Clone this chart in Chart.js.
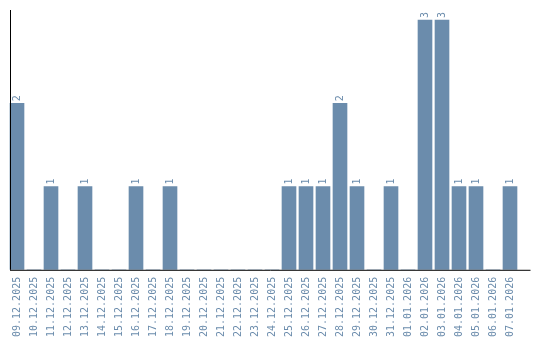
<!DOCTYPE html>
<html>
<head>
<meta charset="utf-8">
<script src="https://cdn.jsdelivr.net/npm/chart.js@4"></script>
<style>
  html, body { margin: 0; padding: 0; background: #fff; }
  #wrap { width: 540px; height: 340px; }
</style>
</head>
<body>
<div id="wrap"><canvas id="chart" width="540" height="340"></canvas></div>
<script>
// Fechas (eje X) y cantidades por día
const fechas = [
  '09.12.2025', '10.12.2025', '11.12.2025', '12.12.2025', '13.12.2025',
  '14.12.2025', '15.12.2025', '16.12.2025', '17.12.2025', '18.12.2025',
  '19.12.2025', '20.12.2025', '21.12.2025', '22.12.2025', '23.12.2025',
  '24.12.2025', '25.12.2025', '26.12.2025', '27.12.2025', '28.12.2025',
  '29.12.2025', '30.12.2025', '31.12.2025', '01.01.2026', '02.01.2026',
  '03.01.2026', '04.01.2026', '05.01.2026', '06.01.2026', '07.01.2026'
];
const cantidades = [
  2, 0, 1, 0, 1,
  0, 0, 1, 0, 1,
  0, 0, 0, 0, 0,
  0, 1, 1, 1, 2,
  1, 0, 1, 0, 3,
  3, 1, 1, 0, 1
];
const yMax = 3.12;

const BAR_COLOR  = '#6b8cac';
const TEXT_COLOR = '#6b8cac';
const FONT       = '"DejaVu Sans Mono", monospace';

// Etiquetas verticales encima de cada barra (solo valores > 0)
const barLabels = {
  id: 'barLabels',
  afterDatasetsDraw(chart) {
    const { ctx } = chart;
    const meta = chart.getDatasetMeta(0);
    ctx.save();
    ctx.fillStyle = TEXT_COLOR;
    ctx.font = '10px ' + FONT;
    ctx.textAlign = 'left';
    ctx.textBaseline = 'middle';
    meta.data.forEach((bar, i) => {
      const v = cantidades[i];
      if (!v) return;
      ctx.save();
      ctx.translate(bar.x, bar.y - 2);
      ctx.rotate(-Math.PI / 2);
      ctx.fillText(String(v), 0, 0);
      ctx.restore();
    });
    ctx.restore();
  }
};

// Líneas de ejes (el eje X se alarga un poco a la derecha)
const axisLines = {
  id: 'axisLines',
  afterDraw(chart) {
    const { ctx, chartArea: a } = chart;
    ctx.save();
    ctx.strokeStyle = '#000';
    ctx.lineWidth = 1;
    ctx.beginPath();
    ctx.moveTo(10.5, a.top);
    ctx.lineTo(10.5, a.bottom);
    ctx.moveTo(10, a.bottom + 0.5);
    ctx.lineTo(a.right + 12, a.bottom + 0.5);
    ctx.stroke();
    ctx.restore();
  }
};

new Chart(document.getElementById('chart'), {
  type: 'bar',
  data: {
    labels: fechas,
    datasets: [{
      data: cantidades,
      backgroundColor: BAR_COLOR,
      borderWidth: 0,
      barThickness: 14
    }]
  },
  options: {
    responsive: false,
    animation: false,
    layout: { padding: { left: 8.5, right: 21.5, top: 10, bottom: -4 } },
    plugins: { legend: { display: false }, tooltip: { enabled: false } },
    scales: {
      x: {
        grid: { display: false, drawTicks: false },
        border: { display: false },
        ticks: {
          autoSkip: false, minRotation: 90, maxRotation: 90,
          padding: 7, color: TEXT_COLOR,
          font: { family: FONT, size: 10 }
        }
      },
      y: { display: false, min: 0, max: yMax }
    }
  },
  plugins: [barLabels, axisLines]
});
</script>
</body>
</html>
